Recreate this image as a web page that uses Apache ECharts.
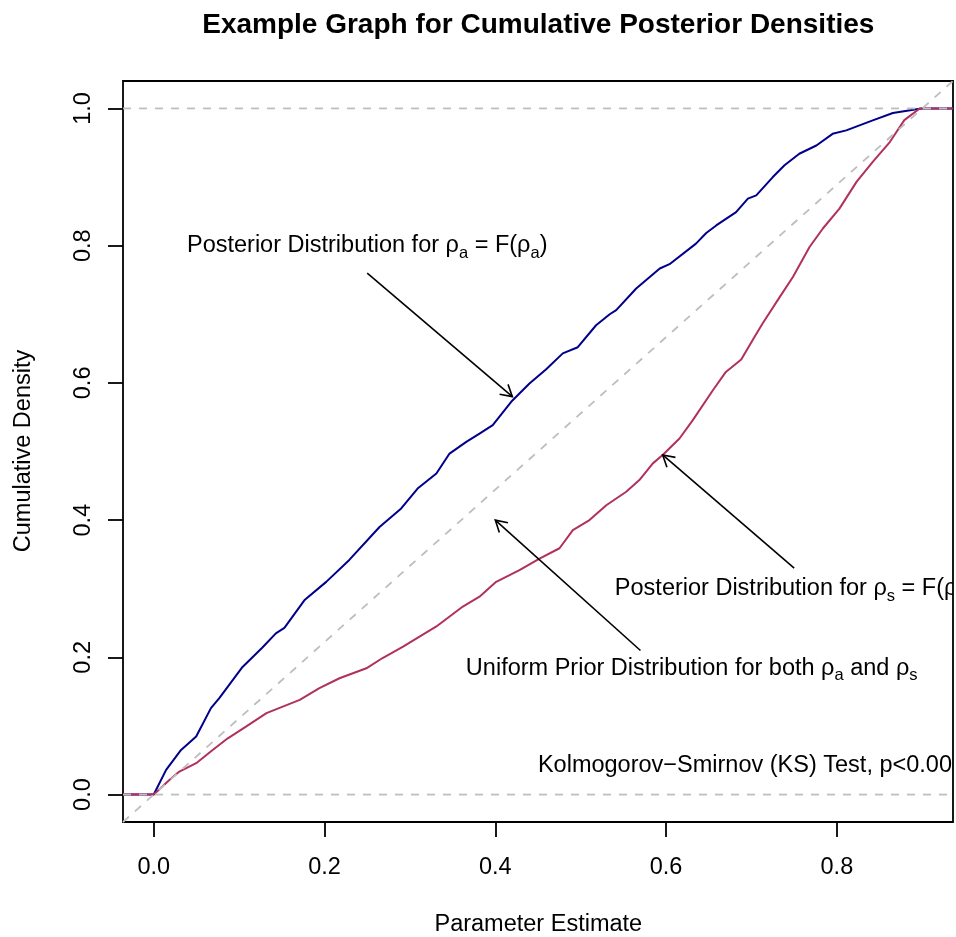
<!DOCTYPE html>
<html>
<head>
<meta charset="utf-8">
<script src="https://cdn.jsdelivr.net/npm/echarts@6/dist/echarts.min.js"></script>
<style>
html,body{margin:0;padding:0;background:#fff;}
#chart{width:956px;height:937px;}
</style>
</head>
<body>
<div id="chart"></div>
<script>
// ---- Data ----
const titleText = 'Example Graph for Cumulative Posterior Densities';
const xAxisName = 'Parameter Estimate';
const yAxisName = 'Cumulative Density';
const xTicks = [0, 0.2, 0.4, 0.6, 0.8];
const yTicks = [0, 0.2, 0.4, 0.6, 0.8, 1.0];

// Posterior for rho_a (blue)
const rhoA_x = [-0.036, 0, 0.0145, 0.032, 0.0497, 0.067, 0.077, 0.104, 0.127, 0.143, 0.153, 0.177, 0.202, 0.229, 0.2644, 0.2898, 0.309, 0.331, 0.3464, 0.366, 0.3815, 0.397, 0.4186, 0.44, 0.4596, 0.479, 0.4966, 0.518, 0.534, 0.5416, 0.565, 0.5926, 0.604, 0.635, 0.647, 0.6587, 0.682, 0.6958, 0.7056, 0.725, 0.7387, 0.756, 0.776, 0.795, 0.811, 0.842, 0.8656, 0.897, 0.9, 0.936];
const rhoA_y = [0, 0, 0.036, 0.065, 0.0845, 0.126, 0.141, 0.186, 0.214, 0.235, 0.243, 0.284, 0.31, 0.342, 0.39, 0.417, 0.446, 0.468, 0.497, 0.514, 0.526, 0.5385, 0.5724, 0.599, 0.62, 0.643, 0.652, 0.684, 0.7, 0.706, 0.7375, 0.7667, 0.773, 0.803, 0.8185, 0.8295, 0.849, 0.8686, 0.8734, 0.9, 0.9172, 0.934, 0.946, 0.963, 0.968, 0.9826, 0.9933, 0.9997, 1, 1];

// Posterior for rho_s (maroon)
const rhoS_x = [-0.036, 0, 0.018, 0.03, 0.0497, 0.069, 0.0867, 0.108, 0.132, 0.171, 0.194, 0.2175, 0.249, 0.268, 0.292, 0.331, 0.362, 0.3815, 0.401, 0.4283, 0.4518, 0.4752, 0.4908, 0.5103, 0.53, 0.5533, 0.5687, 0.5845, 0.596, 0.6157, 0.6313, 0.6548, 0.67, 0.688, 0.7035, 0.713, 0.733, 0.7485, 0.768, 0.7836, 0.803, 0.823, 0.842, 0.862, 0.879, 0.897, 0.936];
const rhoS_y = [0, 0, 0.021, 0.0335, 0.0457, 0.065, 0.082, 0.099, 0.1186, 0.138, 0.155, 0.1695, 0.184, 0.199, 0.2156, 0.245, 0.274, 0.2884, 0.31, 0.327, 0.344, 0.359, 0.3855, 0.4, 0.4216, 0.4413, 0.4583, 0.4827, 0.4948, 0.519, 0.5457, 0.5893, 0.616, 0.634, 0.667, 0.6866, 0.725, 0.7544, 0.798, 0.825, 0.854, 0.893, 0.922, 0.951, 0.983, 1, 1];

// Uniform prior CDF line and reference lines (corner to corner)
const uniform_x = [-0.036, 0.936];
const uniform_y = [-0.04, 1.04];
const refLevels = [0, 1];

// Annotations
const annX = [0.25, 0.75, 0.63, 0.7];
const annY = [0.8, 0.3, 0.184, 0.043];
const annText = [
  'Posterior Distribution for \u03c1{sub|a} = F(\u03c1{sub|a})',
  'Posterior Distribution for \u03c1{sub|s} = F(\u03c1{sub|s})',
  'Uniform Prior Distribution for both \u03c1{sub|a} and \u03c1{sub|s}',
  'Kolmogorov\u2212Smirnov (KS) Test, p<0.001'
];
// Arrows: from (x0,y0) to (x1,y1)
const arrowX0 = [0.25, 0.75, 0.57];
const arrowY0 = [0.76, 0.33, 0.21];
const arrowX1 = [0.42, 0.596, 0.4];
const arrowY1 = [0.58, 0.495, 0.4];

// ---- Chart ----
const FONT = "'Liberation Sans', Arial, Helvetica, sans-serif";
const FS = 23.5;
const XMIN = -0.036, XMAX = 0.936, YMIN = -0.04, YMAX = 1.04;
const zip = (a, b) => a.map((v, i) => [v, b[i]]);

const chart = echarts.init(document.getElementById('chart'), null, {renderer: 'canvas'});

const option = {
  animation: false,
  backgroundColor: '#ffffff',
  grid: {left: 123, top: 81, width: 830, height: 741, show: true, borderColor: '#000', borderWidth: 1.8, backgroundColor: 'transparent'},
  xAxis: {
    type: 'value', min: XMIN, max: XMAX,
    axisLine: {show: false, onZero: false},
    splitLine: {show: false},
    axisTick: {show: true, customValues: xTicks, length: 15, inside: false, lineStyle: {color: '#000', width: 1.8}},
    axisLabel: {show: true, customValues: xTicks, formatter: v => v.toFixed(1), fontSize: FS, fontFamily: FONT, color: '#000', margin: 34}
  },
  yAxis: {
    type: 'value', min: YMIN, max: YMAX,
    axisLine: {show: false, onZero: false},
    splitLine: {show: false},
    axisTick: {show: true, customValues: yTicks, length: 15, inside: false, lineStyle: {color: '#000', width: 1.8}},
    axisLabel: {show: true, customValues: yTicks, formatter: v => v.toFixed(1), rotate: 90, fontSize: FS, fontFamily: FONT, color: '#000', margin: 27}
  },
  graphic: [
    {type: 'text', x: 538.3, y: 25.5, style: {text: titleText, font: 'bold 28px ' + FONT, fill: '#000', align: 'center', verticalAlign: 'middle'}},
    {type: 'text', x: 538.3, y: 924.5, style: {text: xAxisName, font: FS + 'px ' + FONT, fill: '#000', align: 'center', verticalAlign: 'middle'}},
    {type: 'text', x: 24, y: 451, rotation: Math.PI / 2, style: {text: yAxisName, font: FS + 'px ' + FONT, fill: '#000', align: 'center', verticalAlign: 'middle'}}
  ],
  series: [
    {type: 'line', name: 'rho_a', data: zip(rhoA_x, rhoA_y), showSymbol: false, symbol: 'none', lineStyle: {color: '#00008B', width: 2}, z: 2},
    {type: 'line', name: 'rho_s', data: zip(rhoS_x, rhoS_y), showSymbol: false, symbol: 'none', lineStyle: {color: '#B03060', width: 2}, z: 2},
    {type: 'line', name: 'uniform', data: zip(uniform_x, uniform_y), showSymbol: false, symbol: 'none', lineStyle: {color: '#BEBEBE', width: 1.8, type: [8, 8]}, z: 3},
    {type: 'line', name: 'h0', data: [[XMIN, refLevels[0]], [XMAX, refLevels[0]]], showSymbol: false, symbol: 'none', lineStyle: {color: '#BEBEBE', width: 1.8, type: [8, 8]}, z: 3},
    {type: 'line', name: 'h1', data: [[XMIN, refLevels[1]], [XMAX, refLevels[1]]], showSymbol: false, symbol: 'none', lineStyle: {color: '#BEBEBE', width: 1.8, type: [8, 8]}, z: 3},
    {
      type: 'custom', name: 'arrows', clip: true, z: 4,
      data: arrowX0.map((v, i) => [v, arrowY0[i], arrowX1[i], arrowY1[i]]),
      renderItem: function (params, api) {
        const a = api.coord([api.value(0), api.value(1)]);
        const b = api.coord([api.value(2), api.value(3)]);
        const ang = Math.atan2(b[1] - a[1], b[0] - a[0]);
        const L = 13, phi = Math.PI / 6;
        const p1 = [b[0] - L * Math.cos(ang - phi), b[1] - L * Math.sin(ang - phi)];
        const p2 = [b[0] - L * Math.cos(ang + phi), b[1] - L * Math.sin(ang + phi)];
        return {
          type: 'group',
          children: [
            {type: 'line', shape: {x1: a[0], y1: a[1], x2: b[0], y2: b[1]}, style: {stroke: '#000', lineWidth: 1.6}},
            {type: 'polyline', shape: {points: [p1, b, p2]}, style: {stroke: '#000', lineWidth: 1.6, fill: null}}
          ]
        };
      }
    },
    {
      type: 'custom', name: 'labels', clip: true, z: 5,
      data: annX.map((v, i) => [v, annY[i]]),
      renderItem: function (params, api) {
        const p = api.coord([api.value(0), api.value(1)]);
        return {
          type: 'text', x: p[0], y: p[1],
          style: {
            text: annText[params.dataIndex],
            fontSize: FS, fontFamily: FONT, fill: '#000', lineHeight: 32,
            align: 'center', verticalAlign: 'middle',
            rich: {sub: {fontSize: 16.5, fontFamily: FONT, lineHeight: 17, verticalAlign: 'bottom', fill: '#000'}}
          }
        };
      }
    }
  ]
};
chart.setOption(option);
</script>
</body>
</html>
